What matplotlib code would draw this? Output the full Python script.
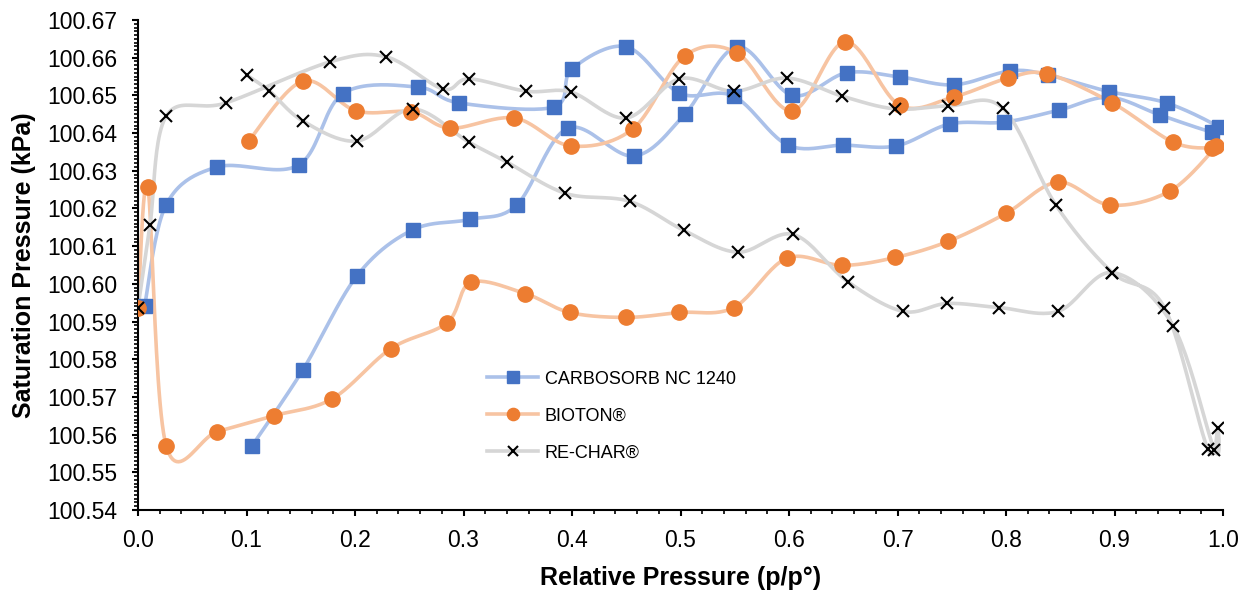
import numpy as np
import matplotlib
matplotlib.use('Agg')
import matplotlib.pyplot as plt
from matplotlib.lines import Line2D
from matplotlib.ticker import MultipleLocator, FormatStrFormatter

plt.rcParams['font.family'] = ['Liberation Sans', 'DejaVu Sans']

# data, in the order the points are joined
carbosorb_x = [0.006, 0.026, 0.073, 0.148, 0.189, 0.258, 0.296, 0.383, 0.400, 0.450,
               0.499, 0.549, 0.599, 0.650, 0.699, 0.748, 0.798, 0.849, 0.895, 0.942,
               0.990, 0.996, 0.948, 0.895, 0.839, 0.804, 0.752, 0.702, 0.653, 0.603,
               0.552, 0.504, 0.457, 0.396, 0.349, 0.306, 0.253, 0.202, 0.152, 0.105]
carbosorb_y = [100.5940, 100.6210, 100.6310, 100.6315, 100.6505, 100.6522, 100.6480, 100.6469, 100.6570, 100.6629,
               100.6506, 100.6498, 100.6368, 100.6368, 100.6366, 100.6424, 100.6429, 100.6461, 100.6495, 100.6448,
               100.6403, 100.6416, 100.6480, 100.6510, 100.6554, 100.6565, 100.6528, 100.6549, 100.6560, 100.6500,
               100.6629, 100.6450, 100.6339, 100.6413, 100.6209, 100.6171, 100.6143, 100.6022, 100.5772, 100.5570]

bioton_x = [0.000, 0.009, 0.026, 0.073, 0.125, 0.179, 0.233, 0.285, 0.307, 0.357,
            0.398, 0.450, 0.499, 0.549, 0.598, 0.649, 0.698, 0.747, 0.800, 0.848,
            0.896, 0.951, 0.994, 0.990, 0.954, 0.898, 0.838, 0.802, 0.752, 0.702,
            0.652, 0.603, 0.552, 0.504, 0.456, 0.399, 0.347, 0.288, 0.252, 0.201,
            0.152, 0.102]
bioton_y = [100.5937, 100.6256, 100.5570, 100.5608, 100.5650, 100.5695, 100.5828, 100.5897, 100.6004, 100.5974,
            100.5924, 100.5911, 100.5924, 100.5937, 100.6068, 100.6049, 100.6070, 100.6113, 100.6187, 100.6270,
            100.6209, 100.6246, 100.6365, 100.6360, 100.6376, 100.6480, 100.6557, 100.6546, 100.6496, 100.6474,
            100.6642, 100.6459, 100.6613, 100.6605, 100.6411, 100.6366, 100.6440, 100.6413, 100.6456, 100.6459,
            100.6538, 100.6379]

rechar_x = [0.000, 0.011, 0.026, 0.081, 0.177, 0.229, 0.281, 0.305, 0.358, 0.399,
            0.450, 0.499, 0.549, 0.598, 0.649, 0.698, 0.747, 0.797, 0.846, 0.898,
            0.946, 0.986, 0.995, 0.992, 0.954, 0.898, 0.848, 0.794, 0.746, 0.705,
            0.654, 0.604, 0.553, 0.503, 0.453, 0.394, 0.340, 0.305, 0.253, 0.202,
            0.152, 0.121, 0.100]
rechar_y = [100.5937, 100.6155, 100.6445, 100.6480, 100.6589, 100.6602, 100.6517, 100.6544, 100.6511, 100.6509,
            100.6440, 100.6544, 100.6511, 100.6546, 100.6498, 100.6464, 100.6472, 100.6466, 100.6209, 100.6030,
            100.5937, 100.5562, 100.5618, 100.5560, 100.5889, 100.6030, 100.5927, 100.5937, 100.5948, 100.5927,
            100.6006, 100.6131, 100.6084, 100.6142, 100.6219, 100.6240, 100.6323, 100.6376, 100.6464, 100.6379,
            100.6432, 100.6512, 100.6554]

labels = ['CARBOSORB NC 1240', 'BIOTON®', 'RE-CHAR®']


def smooth(x, y, n=24):
    # catmull-rom, close to excel's "smoothed line"
    p = np.column_stack([x, y]).astype(float)
    p = np.vstack([p[0], p, p[-1]])
    out = []
    t = np.linspace(0, 1, n, endpoint=False)[:, None]
    for i in range(1, len(p) - 2):
        p0, p1, p2, p3 = p[i - 1], p[i], p[i + 1], p[i + 2]
        c1 = p1 + (p2 - p0) / 6
        c2 = p2 - (p3 - p1) / 6
        seg = ((1 - t) ** 3) * p1 + 3 * ((1 - t) ** 2) * t * c1 + 3 * (1 - t) * t ** 2 * c2 + t ** 3 * p2
        out.append(seg)
    out.append(p[-2][None, :])
    out = np.vstack(out)
    return out[:, 0], out[:, 1]


fig = plt.figure(figsize=(12.51, 5.92), dpi=100)
ax = fig.add_axes([138 / 1251, 1 - 510 / 592, (1223 - 138) / 1251, (510 - 20) / 592])

styles = [
    dict(line='#abc1e9', marker='s', mfc='#4472c4', mec='#4472c4', ms=10.5, mew=1),
    dict(line='#f7c4a2', marker='o', mfc='#ed7d31', mec='#ed7d31', ms=11, mew=1),
    dict(line='#d6d6d6', marker='x', mfc='none', mec='black', ms=9, mew=1.5),
]
series = [(carbosorb_x, carbosorb_y), (bioton_x, bioton_y), (rechar_x, rechar_y)]

handles = []
for (xs, ys), st, lab in zip(series, styles, labels):
    sx, sy = smooth(xs, ys)
    ax.plot(sx, sy, color=st['line'], lw=2.6, solid_capstyle='round', zorder=2)
    ax.plot(xs, ys, ls='none', marker=st['marker'], mfc=st['mfc'], mec=st['mec'],
            ms=st['ms'], mew=st['mew'], zorder=3)
    handles.append(Line2D([], [], color=st['line'], lw=2.6, marker=st['marker'],
                          mfc=st['mfc'], mec=st['mec'], ms=st['ms'] * 0.8, mew=st['mew'], label=lab))

ax.set_xlim(0, 1.0)
ax.set_ylim(100.54, 100.67)
ax.xaxis.set_major_locator(MultipleLocator(0.1))
ax.xaxis.set_minor_locator(MultipleLocator(0.02))
ax.yaxis.set_major_locator(MultipleLocator(0.01))
ax.yaxis.set_minor_locator(MultipleLocator(0.001))
ax.xaxis.set_major_formatter(FormatStrFormatter('%.1f'))
ax.yaxis.set_major_formatter(FormatStrFormatter('%.2f'))

for s in ['top', 'right']:
    ax.spines[s].set_visible(False)
for s in ['left', 'bottom']:
    ax.spines[s].set_linewidth(1.5)
ax.tick_params(which='major', direction='out', length=4, width=1.5, labelsize=16.5, color='black')
ax.tick_params(which='minor', direction='out', length=3, width=1.2, color='black')
ax.tick_params(axis='y', which='major', pad=11)
ax.tick_params(axis='x', which='major', pad=9.5)

ax.set_xlabel('Relative Pressure (p/p°)', fontsize=18, fontweight='bold', labelpad=10)
ax.set_ylabel('Saturation Pressure (kPa)', fontsize=18, fontweight='bold', labelpad=8)

fig.legend(handles=handles, loc='center left', bbox_to_anchor=(480 / 1251, 1 - 416 / 592),
           bbox_transform=fig.transFigure, frameon=False, fontsize=13, handlelength=2.8,
           handletextpad=0.4, labelspacing=1.1, borderaxespad=0)

fig.savefig('out.png', dpi=100)
